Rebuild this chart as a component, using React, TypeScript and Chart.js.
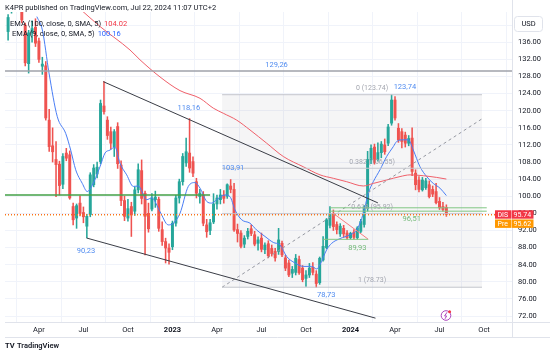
import React, { useEffect, useRef } from "react";
import { Chart, registerables } from "chart.js";

Chart.register(...registerables);

const FONT = "Roboto, 'Liberation Sans', Arial, sans-serif";

// ---------- weekly candles (index 0 = week of 31 Jan 2022) ----------
const opens = [
  138.5, 143.5, 150, 146, 145, 140, 131, 138.2, 139.5, 136.3,
  130.4, 130.5, 117.8, 111.8, 108.6, 107.5, 102.8, 110.1, 109.7, 97.6,
  94.9, 98.4, 96.2, 93, 95.7, 102.7, 105.2, 108.1, 121.1, 117.8,
  115.1, 111.6, 116.3, 107.3, 99, 94.9, 97.6, 96.5, 101.5, 106,
  100.7, 96, 97, 99.2, 99.3, 92.2, 89.4, 87.9, 88.2, 93.7,
  99.6, 103.4, 107.8, 110.1, 108.1, 103.4, 99.9, 100.3, 93.3, 92,
  94, 98.2, 99.2, 100.3, 100, 102.4, 101.6, 92.2, 91.4, 88.8,
  90.6, 92.4, 91, 89, 90.2, 87.5, 88.9, 87.8, 87.1, 87.1,
  89, 85.6, 84.4, 82, 82.2, 85.2, 83.2, 80.8, 81.6, 83.4,
  81.8, 79.8, 85.1, 88, 93.2, 96, 93.4, 91.2, 92.5, 91.4,
  90.3, 91.6, 90.3, 91.8, 93.4, 97.2, 108.5, 111.5, 108.6, 110.2,
  112, 112.4, 117.1, 122.5, 115.9, 115.1, 114.3, 112.4, 113.6, 105.4,
  103.8, 101.5, 102, 102.7, 101.6, 101.1, 98.8, 97.6, 97.4,
];
const highs = [
  142.5, 157, 152, 148.5, 147, 140.5, 138.8, 141, 141.5, 137,
  132.5, 131.5, 120.3, 116, 112.8, 108.2, 110, 111.2, 110.6, 98.4,
  98.2, 100.1, 97.5, 95.8, 105.5, 107.4, 108, 122.5, 126.8, 118.6,
  116.2, 115.6, 117.2, 108.3, 100, 99.3, 98.6, 102.2, 107.6, 108.5,
  101.2, 98.4, 100.6, 101.2, 99.8, 94, 90.2, 88.9, 94.2, 100.2,
  104, 110, 113.6, 118.16, 109.2, 104.2, 101.6, 101.1, 94.6, 94.6,
  100.6, 100.3, 101.6, 101.3, 102.9, 103.91, 103, 93.5, 92, 90.8,
  92.5, 93.3, 91.8, 90.5, 91.4, 89.1, 89.6, 88.6, 87.8, 92.5,
  89.5, 86.2, 85.1, 83.6, 86.4, 86, 83.8, 82.6, 84.3, 84.5,
  82.6, 85.8, 90.6, 94.8, 97.6, 96.8, 94, 93.6, 93.2, 92,
  91.6, 92.2, 92.9, 94.6, 97.8, 110.5, 112, 112.2, 112.5, 112.8,
  113.4, 116.8, 123.74, 123.3, 117, 115.8, 115, 114.2, 116, 106.2,
  104.6, 104.4, 104.2, 103.6, 102.4, 103, 99.7, 98.6, 98,
];
const lows = [
  136.5, 142.8, 144, 143.2, 140.5, 130.5, 128.8, 136, 135, 131.3,
  128.5, 117.8, 110.5, 108, 99.9, 100.3, 101.8, 108.3, 99.3, 93.3,
  92.5, 95.4, 93.8, 90.23, 95.2, 102.2, 104.3, 107.6, 119.2, 113.3,
  111, 109.3, 106.5, 97.8, 94.3, 94.2, 90.6, 95.5, 100.8, 98.2,
  86.3, 91.6, 96.6, 97.4, 91.8, 88.5, 84.4, 84.1, 87.5, 93,
  98.4, 102.6, 107, 105.6, 104.6, 99.6, 98.4, 93.1, 90.4, 91,
  93.6, 97, 98.2, 98.4, 99.5, 100.8, 91.8, 89.3, 87.9, 88,
  90, 90.8, 88.4, 87.4, 87, 86.6, 85.6, 86, 84.8, 86.4,
  85.9, 82.6, 81.2, 81, 81.6, 81.7, 80, 78.9, 81, 81.6,
  78.73, 79.4, 84.8, 87.7, 92.6, 92, 91.2, 90.6, 90.4, 89.93,
  90, 89.95, 89.98, 91.5, 92.8, 96.5, 107.6, 107.5, 108.2, 109,
  109.8, 111.8, 116.6, 117.8, 112.6, 111.3, 111.5, 111.8, 104.8, 101.5,
  101, 101.2, 101.6, 99.6, 99.9, 98.2, 96.9, 96.5, 95.3,
];
const closes = [
  141.8, 150, 146, 145, 141.2, 131.2, 138.2, 139.2, 135.8, 132,
  130.9, 118.3, 111.6, 110.4, 107.4, 102.5, 109.3, 108.9, 99.6, 94.5,
  97.8, 96, 95.2, 95.3, 105, 106.6, 106.8, 121.7, 119.8, 114.2,
  112.4, 115.1, 107.6, 99, 95.3, 97.1, 95.6, 101.5, 106.2, 99.5,
  95.3, 92.4, 99.6, 99.8, 92.5, 89.4, 87.9, 86.9, 93.7, 99.6,
  103.4, 109.3, 110.4, 106.6, 105.4, 100.7, 100.7, 93.7, 91.7, 93.8,
  98.2, 99.6, 100.3, 99.5, 102.7, 101.6, 92.1, 91.3, 88.3, 90.2,
  91.8, 91.3, 88.8, 89.8, 87.6, 88.6, 86.1, 86.6, 85.6, 89.8,
  86.3, 83.2, 81.6, 82.9, 85.5, 82.1, 80.5, 81.6, 83.2, 82.2,
  79.6, 85.5, 88.3, 94.5, 96, 92.9, 92.2, 93, 91.2, 90.3,
  91.3, 90.4, 92.6, 94.1, 97.5, 108.6, 111.2, 107.9, 110.2, 112.2,
  110.4, 116.2, 122.5, 118.3, 113.2, 112.8, 112.4, 113.5, 105.8, 102.7,
  101.6, 103.8, 103.6, 99.9, 100.5, 98.5, 97.3, 96.9, 95.74,
];

// ---------- indicator lines ----------
const emaFastIdx = [8.4, 10, 11.95, 14.37, 16.82, 18.28, 19.74, 21.67, 23.13, 24.42, 26.84, 28.3, 29.76, 31.22, 32.68, 34.64, 36.57, 38.03, 40.48, 41.94, 44.36, 46.79, 48.25, 50.2, 52.63, 54.59, 56.05, 58, 59.46, 60.92, 63.35, 64.81, 66.27, 68.22, 70.65, 72.6, 75.03, 77.45, 79.41, 81.37, 83.79, 86.21, 88.67, 90.13, 91.09, 93.05, 94.51, 96.93, 99.85, 101.81, 103.74, 105.2, 106.66, 108.62, 110.57, 112.5, 113.49, 115.42, 116.88, 118.34, 120.3, 122.25, 124.18, 126.13, 128];
const emaFastVal = [142, 138.9, 128.8, 118.6, 114.7, 110.8, 106.2, 103, 101.1, 102.3, 106.9, 110.1, 110.8, 111.5, 107.7, 105, 102.3, 102.4, 99.2, 99.6, 96.4, 93.3, 93.7, 96, 102.3, 103.2, 101.9, 98.8, 98.4, 99.2, 100.3, 99.9, 96.8, 94.5, 93.7, 92.1, 90.6, 89.2, 88.6, 85.9, 84.4, 83.6, 83.6, 83, 84, 87.5, 89, 90.1, 91, 92.1, 96, 100.7, 103.4, 106.2, 109.3, 111.6, 112.8, 113.2, 113.2, 110.8, 106.9, 104.6, 103, 101.9, 100.16];
const emaSlowIdx = [21, 26.84, 35.6, 38.52, 44.36, 50.2, 56.05, 59.93, 62.85, 66.76, 70.65, 75.53, 80.37, 86.21, 91.09, 94.98, 98.89, 103.74, 106.66, 110.57, 114.46, 117.38, 121.26, 125.17, 128];
const emaSlowVal = [143.8, 139.7, 134.2, 131.9, 127.9, 124.7, 122.9, 120.6, 119.4, 117.8, 115.5, 112.4, 109.3, 106.9, 105, 104.2, 103.4, 102.4, 103, 103.8, 104.6, 105, 104.8, 104.4, 104.02];

// ---------- axes ----------
const priceTicks = [72, 76, 80, 84, 88, 92, 96, 100, 104, 108, 112, 116, 120, 124, 128, 132, 136, 140];
const timeTickIdx = [9, 22, 35, 48, 61, 74, 87, 100, 113, 126, 139];
const timeTickLabels = ["Apr", "Jul", "Oct", "2023", "Apr", "Jul", "Oct", "2024", "Apr", "Jul", "Oct"];
const xMin = -0.905;
const xMax = 147.17;
const yMin = 70.6;
const yMax = 143.08;

const lastPrice = 95.74;
const prePrice = 95.62;
const emaSlowLast = 104.02;
const emaFastLast = 100.16;

// ---------- drawings (week index / price anchors) ----------
const grayLevel = 129.26;
const greenLevel = 100.3;
const greenLevelEnd = 59;
const rangeTop = 97.3;
const rangeMid = 96.51;
const rangeIdx = [94, 139.8];
const rangeLow = 89.93;
const rangeLowIdx = [92, 105.1];
const wedgeIdx = [94.98, 105.2];
const wedgePrice = [96.0, 89.94];
const chanUpIdx = [27.8, 108.0];
const chanUpPrice = [126.8, 98.45];
const chanLowIdx = [22.95, 107.3];
const chanLowPrice = [90.23, 71.5];
const fibLow = 78.73;
const fibHigh = 123.74;
const fibRatios = [0, 0.382, 0.618, 1];
const fibIdx = [62.5, 138.4];
const fibTrendIdx = [62.5, 138.4];
const fibTrendPrice = [78.73, 118.1];

const noteText = ["90,23", "129,26", "118,16", "103,91", "78,73", "123,74"];
const noteIdx = [22.75, 78.4, 52.8, 65.7, 92.9, 115.9];
const notePrice = [90.23, 129.26, 118.16, 103.91, 78.73, 123.74];
const greenNoteText = ["89,93", "96,51"];
const greenNoteIdx = [102, 117.9];
const greenNotePrice = [89.93, 96.51];

// ---------- styles ----------
const UP = "#26a69a";
const DOWN = "#ef5350";
const noteDy = [13, -6, -10, -11, 8, -8];
const greenNoteDy = [9, 8];

function seg(xs: number[], ys: number[]) {
  return xs.map((x, i) => ({ x, y: ys[i] }));
}

function lineDs(data: any[], color: string, width: number, extra: any = {}) {
  return {
    type: "line" as const,
    data,
    borderColor: color,
    borderWidth: width,
    pointRadius: 0,
    fill: false,
    tension: 0,
    order: 1,
    ...extra,
  };
}

const overlayPlugin = {
  id: "overlay",
  beforeDraw(chart: any) {
    const { ctx } = chart;
    ctx.save();
    ctx.fillStyle = "#ffffff";
    ctx.fillRect(0, 0, chart.width, chart.height);
    ctx.restore();
  },
  beforeDatasetsDraw(chart: any) {
    const { ctx, scales } = chart;
    const xs = scales.x, ys = scales.y;
    const x1 = xs.getPixelForValue(fibIdx[0]);
    const x2 = xs.getPixelForValue(fibIdx[1]);
    const yT = ys.getPixelForValue(fibHigh);
    const yB = ys.getPixelForValue(fibLow);
    ctx.save();
    ctx.fillStyle = "rgba(120,123,134,0.075)";
    ctx.fillRect(x1, yT, x2 - x1, yB - yT);
    ctx.restore();
  },
  afterDatasetsDraw(chart: any) {
    const { ctx, scales } = chart;
    const xs = scales.x, ys = scales.y;
    ctx.save();
    ctx.textAlign = "center";
    ctx.textBaseline = "middle";
    ctx.font = `7.5px ${FONT}`;
    ctx.fillStyle = "#4f8bf0";
    noteText.forEach((t, i) => {
      ctx.fillText(t, xs.getPixelForValue(noteIdx[i]), ys.getPixelForValue(notePrice[i]) + noteDy[i]);
    });
    ctx.fillStyle = "#72b877";
    greenNoteText.forEach((t, i) => {
      ctx.fillText(t, xs.getPixelForValue(greenNoteIdx[i]), ys.getPixelForValue(greenNotePrice[i]) + greenNoteDy[i]);
    });
    ctx.fillStyle = "#a3a6af";
    ctx.font = `7px ${FONT}`;
    const fx = xs.getPixelForValue(106.3);
    fibRatios.forEach((r) => {
      const v = fibHigh - r * (fibHigh - fibLow);
      const lbl = `${r === 0 || r === 1 ? r : r.toFixed(3)} (${v.toFixed(2)})`;
      ctx.fillText(lbl, fx, ys.getPixelForValue(v) - 6.5);
    });
    ctx.restore();
  },
  afterDraw(chart: any) {
    const { ctx, scales } = chart;
    const ys = scales.y;
    ctx.save();
    // frame lines
    ctx.strokeStyle = "#e0e3eb";
    ctx.lineWidth = 1;
    ctx.beginPath();
    ctx.moveTo(5, 322.5); ctx.lineTo(550, 322.5);
    ctx.moveTo(5, 337.5); ctx.lineTo(550, 337.5);
    ctx.moveTo(512.5, 0); ctx.lineTo(512.5, 337.5);
    ctx.stroke();

    // header
    ctx.textBaseline = "middle";
    ctx.textAlign = "left";
    ctx.fillStyle = "#131722";
    ctx.font = `7.5px ${FONT}`;
    ctx.fillText("K4PR published on TradingView.com, Jul 22, 2024 11:07 UTC+2", 5, 8.5);

    // legend
    ctx.font = `7.5px ${FONT}`;
    const l1 = "EMA (100, close, 0, SMA, 5)";
    ctx.fillStyle = "#131722";
    ctx.fillText(l1, 10, 24.5);
    let w = ctx.measureText(l1).width;
    ctx.fillStyle = "#f23645";
    ctx.fillText(emaSlowLast.toFixed(2), 10 + w + 3, 24.5);
    const l2 = "EMA (9, close, 0, SMA, 5)";
    ctx.fillStyle = "#131722";
    ctx.fillText(l2, 12, 34.5);
    w = ctx.measureText(l2).width;
    ctx.fillStyle = "#2962ff";
    ctx.fillText(emaFastLast.toFixed(2), 12 + w + 3, 34.5);

    // USD box
    ctx.fillStyle = "#ffffff";
    ctx.strokeStyle = "#e0e3eb";
    ctx.beginPath();
    ctx.roundRect(514.5, 16.5, 28, 15, 3);
    ctx.fill();
    ctx.stroke();
    ctx.fillStyle = "#131722";
    ctx.textAlign = "center";
    ctx.fillText("USD", 528.5, 24.5);

    // price tags
    const yl = ys.getPixelForValue(lastPrice);
    ctx.textAlign = "left";
    ctx.fillStyle = "#f23645";
    ctx.fillRect(495, yl - 4.2, 16, 8.4);
    ctx.fillRect(511.5, yl - 4.2, 22, 8.4);
    ctx.fillStyle = "#ffffff";
    ctx.font = `7px ${FONT}`;
    ctx.fillText("DIS", 497.5, yl + 0.3);
    ctx.fillText(lastPrice.toFixed(2), 513.5, yl + 0.3);
    const yp = yl + 9.2;
    ctx.fillStyle = "#ff9800";
    ctx.fillRect(495, yp - 4.2, 16, 8.4);
    ctx.fillRect(511.5, yp - 4.2, 22, 8.4);
    ctx.fillStyle = "#ffffff";
    ctx.fillText("Pre", 497.5, yp + 0.3);
    ctx.fillText(prePrice.toFixed(2), 513.5, yp + 0.3);

    // event marker
    ctx.strokeStyle = "#ab47bc";
    ctx.fillStyle = "#ffffff";
    ctx.lineWidth = 1;
    ctx.beginPath();
    ctx.arc(446, 315.5, 4.8, 0, Math.PI * 2);
    ctx.fill();
    ctx.stroke();
    ctx.beginPath();
    ctx.moveTo(447, 312.3); ctx.lineTo(444.6, 316); ctx.lineTo(446.6, 316); ctx.lineTo(445, 318.8);
    ctx.stroke();
    ctx.fillStyle = "#f23645";
    ctx.beginPath();
    ctx.arc(449.6, 311.8, 1.5, 0, Math.PI * 2);
    ctx.fill();

    // logo
    ctx.fillStyle = "#131722";
    ctx.font = `bold 7.5px ${FONT}`;
    ctx.textAlign = "left";
    ctx.fillText("TV", 5, 346.5);
    ctx.font = `600 7.5px ${FONT}`;
    ctx.fillText("TradingView", 17, 346.5);
    ctx.restore();
  },
};

export default function App() {
  const ref = useRef<HTMLCanvasElement>(null);
  useEffect(() => {
    document.body.style.margin = "0";
    const idx = opens.map((_, i) => i);
    const colors = idx.map((i) => (closes[i] >= opens[i] ? UP : DOWN));
    const wickData = idx.map((i) => ({ x: i, y: [lows[i], highs[i]] }));
    const bodyData = idx.map((i) => ({ x: i, y: [opens[i], closes[i]] }));

    const fibLines = fibRatios.map((r) => {
      const v = fibHigh - r * (fibHigh - fibLow);
      return lineDs(seg(fibIdx, [v, v]), "#c3c5cc", 1, { order: 3 });
    });

    const chart = new Chart(ref.current as HTMLCanvasElement, {
      type: "bar",
      data: {
        datasets: [
          {
            type: "bar",
            data: wickData as any,
            backgroundColor: colors,
            barThickness: 0.9,
            grouped: false,
            borderWidth: 0,
            order: 11,
          } as any,
          {
            type: "bar",
            data: bodyData as any,
            backgroundColor: colors,
            barThickness: 2.3,
            minBarLength: 1,
            grouped: false,
            borderWidth: 0,
            order: 10,
          } as any,
          ...fibLines,
          lineDs(seg(fibTrendIdx, fibTrendPrice), "#9598a1", 1, { borderDash: [3, 3], order: 3 }),
          lineDs(seg(emaSlowIdx, emaSlowVal), "#f0606a", 1, { cubicInterpolationMode: "monotone", order: 5 }),
          lineDs(seg(emaFastIdx, emaFastVal), "#4a7ef5", 1, { cubicInterpolationMode: "monotone", order: 5 }),
          lineDs(seg([xMin, xMax], [grayLevel, grayLevel]), "#9fa2aa", 1.5),
          lineDs(seg([xMin, greenLevelEnd], [greenLevel, greenLevel]), "#43a047", 1.5),
          lineDs(seg(rangeIdx, [rangeTop, rangeTop]), "#81c784", 1),
          lineDs(seg(rangeIdx, [rangeMid, rangeMid]), "#81c784", 1),
          lineDs(seg(rangeLowIdx, [rangeLow, rangeLow]), "#81c784", 1),
          lineDs(seg(wedgeIdx, wedgePrice), "#f77c80", 1),
          lineDs(seg(chanUpIdx, chanUpPrice), "#3a3d46", 1),
          lineDs(seg(chanLowIdx, chanLowPrice), "#3a3d46", 1),
          lineDs(seg([xMin, xMax], [prePrice, prePrice]), "#ff9800", 1, { borderDash: [1, 2], order: 2 }),
          lineDs(seg([xMin, xMax], [lastPrice, lastPrice]), "#f23645", 1, { borderDash: [1, 2], order: 2 }),
        ] as any,
      },
      options: {
        responsive: false,
        animation: false,
        devicePixelRatio: 1,
        layout: { padding: { left: 5, top: 12, right: 0, bottom: 19 } },
        plugins: { legend: { display: false }, tooltip: { enabled: false } },
        scales: {
          x: {
            type: "linear",
            min: xMin,
            max: xMax,
            offset: false,
            afterBuildTicks: (s: any) => {
              s.ticks = timeTickIdx.map((v) => ({ value: v }));
            },
            afterFit: (s: any) => {
              s.height = 15;
            },
            ticks: {
              autoSkip: false,
              maxRotation: 0,
              padding: 4,
              color: "#131722",
              font: (c: any) => {
                const k = timeTickIdx.indexOf(c.tick ? c.tick.value : -1);
                const lbl = k >= 0 ? timeTickLabels[k] : "";
                return { family: FONT, size: 7.5, weight: /^\d{4}$/.test(lbl) ? "bold" : "normal" };
              },
              callback: (v: any) => {
                const k = timeTickIdx.indexOf(Number(v));
                return k >= 0 ? timeTickLabels[k] : "";
              },
            },
            grid: { color: "#f0f3fa", drawTicks: false },
            border: { color: "#e0e3eb" },
          },
          y: {
            type: "linear",
            position: "right",
            min: yMin,
            max: yMax,
            afterBuildTicks: (s: any) => {
              s.ticks = priceTicks.map((v) => ({ value: v }));
            },
            afterFit: (s: any) => {
              s.width = 38;
            },
            ticks: {
              padding: 6,
              color: "#131722",
              font: { family: FONT, size: 7.5 },
              callback: (v: any) => Number(v).toFixed(2),
            },
            grid: { color: "#f0f3fa", drawTicks: false },
            border: { color: "#e0e3eb" },
          },
        },
      } as any,
      plugins: [overlayPlugin],
    });
    return () => chart.destroy();
  }, []);
  return (
    <div style={{ width: 550, height: 356, background: "#fff" }}>
      <canvas ref={ref} width={550} height={356} style={{ width: 550, height: 356, display: "block" }} />
    </div>
  );
}
